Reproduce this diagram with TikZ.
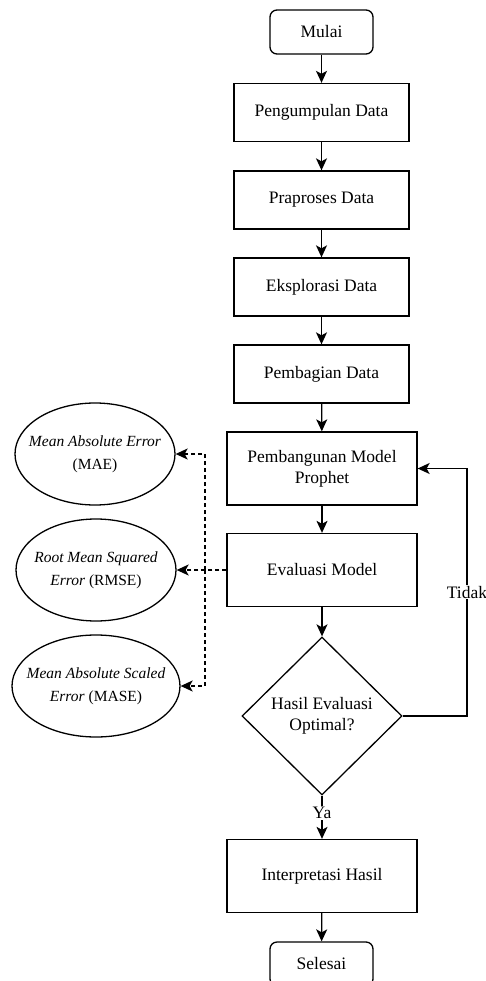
\documentclass[tikz,border=0pt]{standalone}
\usepackage{fontspec}
\setmainfont{Liberation Serif}
\usetikzlibrary{shapes.geometric,arrows.meta}

\tikzset{
  kotak/.style={draw,rectangle,line width=1.3pt,minimum width=175pt,minimum height=58pt,align=center,inner sep=2pt},
  kotaklebar/.style={kotak,minimum width=190pt,minimum height=73pt},
  terminal/.style={draw,rectangle,rounded corners=7pt,line width=1.3pt,minimum width=103pt,minimum height=44pt},
  keputusan/.style={draw,diamond,aspect=1,line width=1.3pt,minimum width=160pt,minimum height=158pt,inner sep=0pt,align=center},
  elips/.style={draw,ellipse,line width=1.3pt,minimum width=160pt,minimum height=102pt,inner xsep=-26pt,inner ysep=0pt,align=center,font=\fontsize{15.5}{23}\selectfont},
  panah/.style={line width=1.3pt,-{Stealth[length=12pt,width=11pt,inset=3pt]}},
  putus/.style={dashed,dash pattern=on 4pt off 3pt}
}

\begin{document}
\begin{tikzpicture}[x=1pt,y=-1pt,font=\fontsize{17.5}{21}\selectfont]
      \useasboundingbox (0,0) rectangle (486,981);

      \node[terminal] (mulai) at (321.5,32) {Mulai};
      \node[kotak] (kumpul) at (321.5,112.5) {Pengumpulan Data};
      \node[kotak] (praproses) at (321.5,200) {Praproses Data};
      \node[kotak] (eksplorasi) at (321.5,287) {Eksplorasi Data};
      \node[kotak] (bagi) at (321.5,374) {Pembagian Data};
      \node[kotaklebar] (bangun) at (322,468.5) {Pembangunan Model\\Prophet};
      \node[kotaklebar] (evaluasi) at (322,570) {Evaluasi Model};
      \node[keputusan] (optimal) at (322,716) {Hasil Evaluasi\\Optimal?};
      \node[kotaklebar] (tafsir) at (322,876) {Interpretasi Hasil};
      \node[terminal] (selesai) at (321.5,964) {Selesai};

      \node[elips] (mae) at (95,454) {\textit{Mean Absolute Error}\\(MAE)};
      \node[elips] (rmse) at (96,570) {\textit{Root Mean Squared}\\\textit{Error} (RMSE)};
      \node[elips,minimum width=168pt] (mase) at (96,686) {\textit{Mean Absolute Scaled}\\\textit{Error} (MASE)};

      \foreach \a/\b in {mulai/kumpul,kumpul/praproses,praproses/eksplorasi,eksplorasi/bagi,bagi/bangun,bangun/evaluasi,evaluasi/optimal,tafsir/selesai} {
        \draw[panah] (\a) -- (\b);
      }
      \draw[panah] (optimal) -- node[fill=white,inner sep=1pt,pos=0.4] {Ya} (tafsir);

      \coordinate (belok) at (467,716);
      \draw[panah] (optimal.east) -- (belok) |- node[fill=white,inner sep=1pt,pos=0.25] {Tidak} (bangun.east);

      % metrik evaluasi
      \coordinate (cabang) at (205,570);
      \draw[panah,putus] (evaluasi.west) -- (rmse.east);
      \draw[panah,putus] (cabang) |- (mae.east);
      \draw[panah,putus] (cabang) |- (mase.east);
\end{tikzpicture}
\end{document}
